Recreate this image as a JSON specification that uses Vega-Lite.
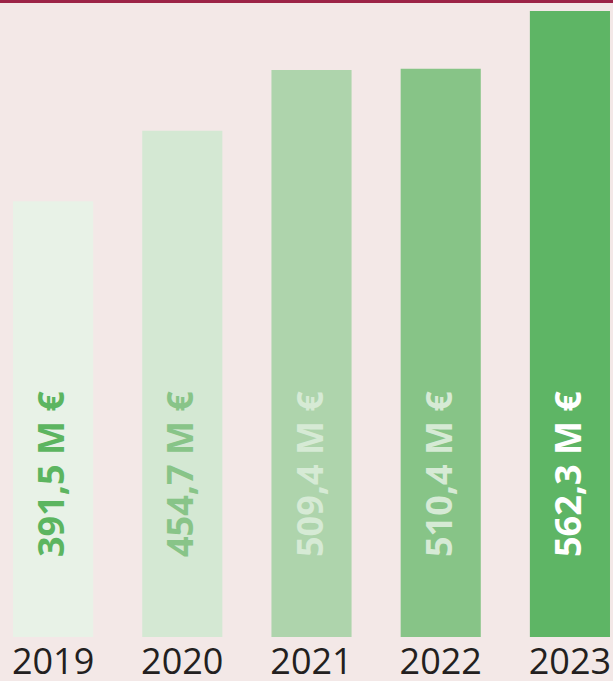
{
  "$schema": "https://vega.github.io/schema/vega-lite/v6.json",
  "width": 613,
  "height": 637,
  "autosize": {"type": "none"},
  "padding": {"left": 0, "right": 0, "top": 0, "bottom": 44},
  "background": "#f3e8e7",
  "config": {"view": {"stroke": null}, "font": "Open Sans"},
  "data": {"values": [
    {"year": "2019", "value": 391.5, "label": "391,5 M €"},
    {"year": "2020", "value": 454.7, "label": "454,7 M €"},
    {"year": "2021", "value": 509.4, "label": "509,4 M €"},
    {"year": "2022", "value": 510.4, "label": "510,4 M €"},
    {"year": "2023", "value": 562.3, "label": "562,3 M €"}
  ]},
  "layer": [
    {
      "mark": {"type": "bar"},
      "encoding": {
        "x": {"field": "year", "type": "nominal", "scale": {"paddingInner": 0.38, "paddingOuter": 0.062, "align": 0.8125},
              "axis": {"title": null, "labelAngle": 0, "ticks": false, "domain": false, "labelFontSize": 36, "labelColor": "#231f20", "labelPadding": 8, "labelFont": "Open Sans"}},
        "y": {"field": "value", "type": "quantitative", "scale": {"domain": [0, 572.2], "nice": false}, "axis": null},
        "color": {"field": "year", "type": "nominal", "legend": null,
                  "scale": {"domain": ["2019", "2020", "2021", "2022", "2023"], "range": ["#e8f2e7", "#d4e8d3", "#aed4ac", "#87c487", "#5eb565"]}}
      }
    },
    {
      "mark": {"type": "text", "angle": 270, "align": "left", "baseline": "middle", "dx": 80, "fontSize": 36, "fontWeight": "bold", "font": "Open Sans"},
      "encoding": {
        "x": {"field": "year", "type": "nominal"},
        "y": {"datum": 0, "type": "quantitative"},
        "text": {"field": "label"},
        "color": {"field": "year", "type": "nominal", "legend": null,
                  "scale": {"domain": ["2019", "2020", "2021", "2022", "2023"], "range": ["#5cb560", "#88c488", "#d6ead5", "#d6ead5", "#ffffff"]}}
      }
    },
    {
      "mark": {"type": "rule", "color": "#9c2347", "strokeWidth": 3},
      "encoding": {"y": {"datum": 570.85, "type": "quantitative"}}
    }
  ],
  "resolve": {"scale": {"color": "independent"}}
}
